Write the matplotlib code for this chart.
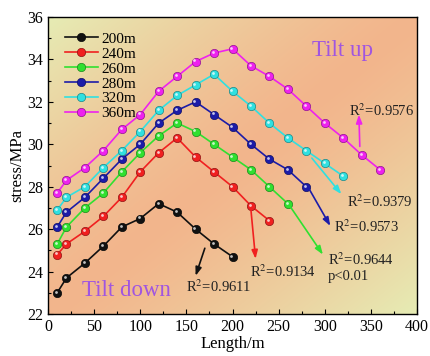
import numpy as np
import matplotlib
matplotlib.use("Agg")
import matplotlib.pyplot as plt
from matplotlib.colors import to_rgb
import matplotlib.transforms as mtransforms

plt.rcParams['font.family'] = ['Liberation Serif', 'DejaVu Serif']
plt.rcParams['mathtext.fontset'] = 'stix'

# ---- data ----
labels = ["200m", "240m", "260m", "280m", "320m", "360m"]
colors = ["#111111", "#f02020", "#30e030", "#1c1ca8", "#30e0e0", "#ee22ee"]
x_pos = [10, 20, 40, 60, 80, 100, 120, 140, 160, 180, 200, 220, 240, 260, 280, 300, 320, 340, 360]
s200 = [23.0, 23.7, 24.4, 25.2, 26.1, 26.5, 27.2, 26.8, 26.0, 25.3, 24.7]
s240 = [24.8, 25.3, 25.9, 26.6, 27.5, 28.7, 29.6, 30.3, 29.4, 28.7, 28.0, 27.1, 26.4]
s260 = [25.3, 26.1, 27.0, 27.7, 28.7, 29.6, 30.4, 31.0, 30.6, 30.0, 29.4, 28.8, 28.0, 27.2]
s280 = [26.1, 26.8, 27.5, 28.4, 29.3, 30.0, 31.0, 31.6, 32.0, 31.4, 30.8, 30.0, 29.3, 28.8, 28.0]
s320 = [26.9, 27.5, 28.0, 28.9, 29.7, 30.6, 31.6, 32.3, 32.8, 33.3, 32.5, 31.8, 31.0, 30.3, 29.7, 29.1, 28.5]
s360 = [27.7, 28.3, 28.9, 29.7, 30.7, 31.4, 32.5, 33.2, 33.9, 34.3, 34.5, 33.7, 33.2, 32.6, 31.8, 31.0, 30.3, 29.5, 28.8]
series = [s200, s240, s260, s280, s320, s360]

r2_texts = ["R$^2$=0.9611", "R$^2$=0.9134", "R$^2$=0.9644\np<0.01", "R$^2$=0.9573", "R$^2$=0.9379", "R$^2$=0.9576"]
arrow_start = [(170, 25.1), (220, 26.9), (262, 27.1), (283, 27.9), (286, 29.35), (338, 29.9)]
arrow_end = [(160, 23.8), (225, 24.6), (298, 24.8), (306, 26.15), (318, 27.65), (337, 31.4)]
text_pos = [(150, 23.3), (219, 24.0), (303, 24.2), (310, 26.1), (324, 27.3), (326, 31.6)]

fig = plt.figure(figsize=(4.3, 3.56), dpi=100)
ax = fig.add_axes([48/430, 1-314/356, (417-48)/430, (314-17)/356])

# background gradient
n = 200
u, v = np.meshgrid(np.linspace(0, 1, n), np.linspace(0, 1, n))
d = np.clip(np.abs(u - v), 0, 1) ** 1.3
c_or = np.array(to_rgb("#f3b58c"))
c_pale = np.array(to_rgb("#e6ecb4"))
img = c_or[None, None, :] * (1 - d[..., None]) + c_pale[None, None, :] * d[..., None]
ax.imshow(img, extent=[0, 1, 0, 1], transform=ax.transAxes, origin="lower",
          aspect="auto", zorder=0, interpolation="bilinear")

hl = mtransforms.offset_copy(ax.transData, fig=fig, x=-0.8, y=0.8, units='points')
handles = []
for lab, col, s in zip(labels, colors, series):
    xs = x_pos[:len(s)]
    h, = ax.plot(xs, s, '-', color=col, lw=1.2, marker='o', ms=6,
                 mfc=col, mec=tuple(0.6 * np.array(to_rgb(col))), mew=0.5, zorder=3, label=lab)
    ax.plot(xs, s, 'o', ms=2, color='white', alpha=0.75, mec='none', transform=hl, zorder=4)
    handles.append(h)

for col, st, en, tp, tx in zip(colors, arrow_start, arrow_end, text_pos, r2_texts):
    ax.annotate("", xy=en, xytext=st,
                arrowprops=dict(arrowstyle="-|>,head_length=0.5,head_width=0.18", color=col, lw=1.2,
                                shrinkA=0, shrinkB=0), zorder=5)
    ax.text(tp[0], tp[1], tx, fontsize=10.5, color="#222222", ha="left", va="center",
            zorder=6, linespacing=1.2)

ax.text(318.7, 34.4, "Tilt up", fontsize=16.5, color="#a055e0", ha="center", va="center", zorder=6)
ax.text(84.6, 23.1, "Tilt down", fontsize=16.5, color="#a055e0", ha="center", va="center", zorder=6)

ax.set_xlim(0, 400)
ax.set_ylim(22, 36)
ax.set_xticks(np.arange(0, 401, 50))
ax.set_yticks(np.arange(22, 37, 2))
ax.set_xticks(np.arange(25, 400, 50), minor=True)
ax.set_yticks(np.arange(23, 36, 2), minor=True)
ax.tick_params(which='both', direction='in', labelsize=11.5, top=False, right=False)
ax.tick_params(which='major', length=3.5, width=0.8)
ax.tick_params(which='minor', length=2, width=0.8)
ax.set_xlabel("Length/m", fontsize=12, labelpad=1)
ax.set_ylabel("stress/MPa", fontsize=12, labelpad=1)
for sp in ax.spines.values():
    sp.set_linewidth(1.0)

leg = ax.legend(handles=handles, loc="upper left", bbox_to_anchor=(0.02, 0.98), frameon=False,
                fontsize=11, handlelength=2.2, handletextpad=0.2, labelspacing=0.08,
                borderaxespad=0.2)

fig.savefig("out.png", dpi=100)
